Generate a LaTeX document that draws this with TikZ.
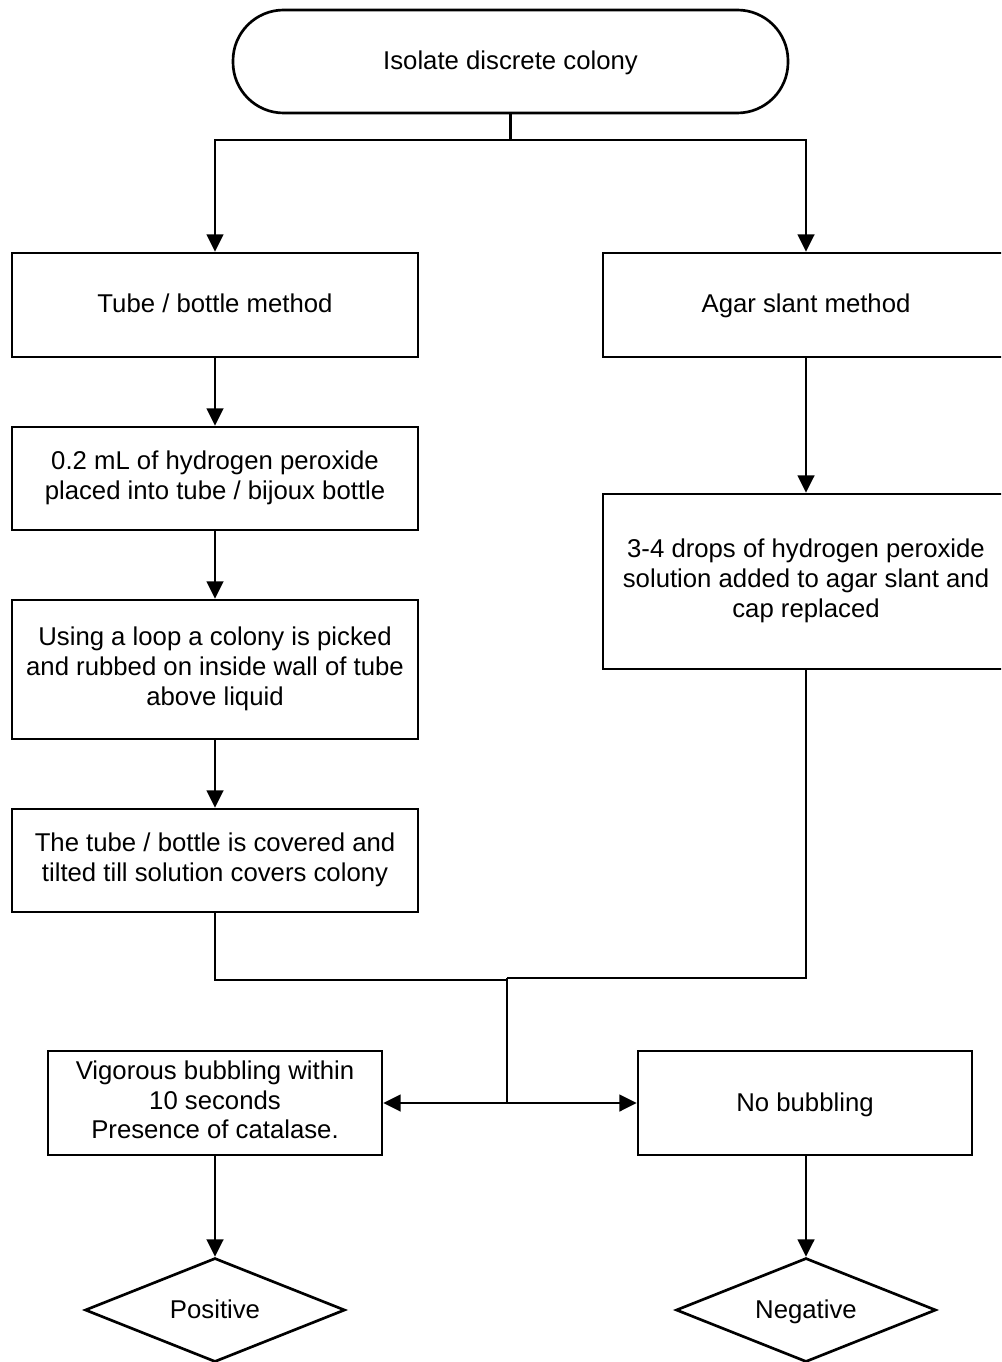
\documentclass[tikz,border=0pt]{standalone}
\usepackage{fontspec}
\setmainfont{Liberation Sans}
\usetikzlibrary{shapes.geometric,arrows.meta}
\newcommand\mystrut{\rule[-5pt]{0pt}{22pt}}
\begin{document}
\begin{tikzpicture}[x=0.75pt,y=-0.75pt,
  every node/.style={font=\fontsize{19.3pt}{22.3pt}\selectfont, align=center},
  boxnode/.style={draw, line width=2pt, rectangle, inner sep=0pt,
    execute at begin node=\mystrut, execute at end node=\mystrut},
  decision/.style={draw, line width=2pt, diamond, aspect=2.5, inner sep=0pt,
    minimum width=260*0.75pt, minimum height=104*0.75pt,
    execute at begin node=\mystrut},
  arr/.style={line width=2pt, -{Triangle[length=13pt,width=12.5pt]}},
  ln/.style={line width=2pt}]
\clip (0,0) rectangle (1001,1362);
\fill[white] (0,0) rectangle (1001,1362);
\node[boxnode, rounded corners=38pt, minimum width=555*0.75pt, minimum height=103*0.75pt] (top) at (510.5,61.5) {Isolate discrete colony};
\coordinate (split) at (510.5,140);
\node[boxnode, minimum width=406*0.75pt, minimum height=104*0.75pt] (tube) at (215,305) {Tube / bottle method};
\node[boxnode, minimum width=406*0.75pt, minimum height=104*0.75pt] (agar1) at (806,305) {Agar slant method};
\node[boxnode, minimum width=406*0.75pt, minimum height=103*0.75pt] (b2) at (215,478.5) {0.2 mL of hydrogen peroxide\\placed into tube / bijoux bottle};
\node[boxnode, minimum width=406*0.75pt, minimum height=139*0.75pt] (b3) at (215,669.5) {Using a loop a colony is picked\\and rubbed on inside wall of tube\\above liquid};
\node[boxnode, minimum width=406*0.75pt, minimum height=103*0.75pt] (b4) at (215,860.5) {The tube / bottle is covered and\\tilted till solution covers colony};
\node[boxnode, minimum width=406*0.75pt, minimum height=175*0.75pt] (agar2) at (806,581.5) {3-4 drops of hydrogen peroxide\\solution added to agar slant and\\cap replaced};
\coordinate (jL) at (507,980);
\coordinate (jR) at (507,978);
\coordinate (jmid) at (507,1103);
\node[boxnode, minimum width=334*0.75pt, minimum height=104*0.75pt] (pos) at (215,1103) {Vigorous bubbling within\\10 seconds\\Presence of catalase.};
\node[boxnode, minimum width=334*0.75pt, minimum height=104*0.75pt] (neg) at (805,1103) {No bubbling};
\node[decision] (dpos) at (215,1310) {Positive};
\node[decision] (dneg) at (806,1310) {Negative};
\draw[ln] (top.south) -- (split);
\draw[arr] (split) -| (tube.north);
\draw[arr] (split) -| (agar1.north);
\draw[arr] (tube.south) -- (b2.north);
\draw[arr] (b2.south) -- (b3.north);
\draw[arr] (b3.south) -- (b4.north);
\draw[arr] (agar1.south) -- (agar2.north);
\draw[ln] (b4.south) |- (jL);
\draw[ln] (agar2.south) |- (jR);
\draw[ln] (jR) -- (jmid);
\draw[arr] (jmid) -- (pos.east);
\draw[arr] (jmid) -- (neg.west);
\draw[arr] (pos.south) -- (dpos.north);
\draw[arr] (neg.south -| dneg.north) -- (dneg.north);
\end{tikzpicture}
\end{document}
